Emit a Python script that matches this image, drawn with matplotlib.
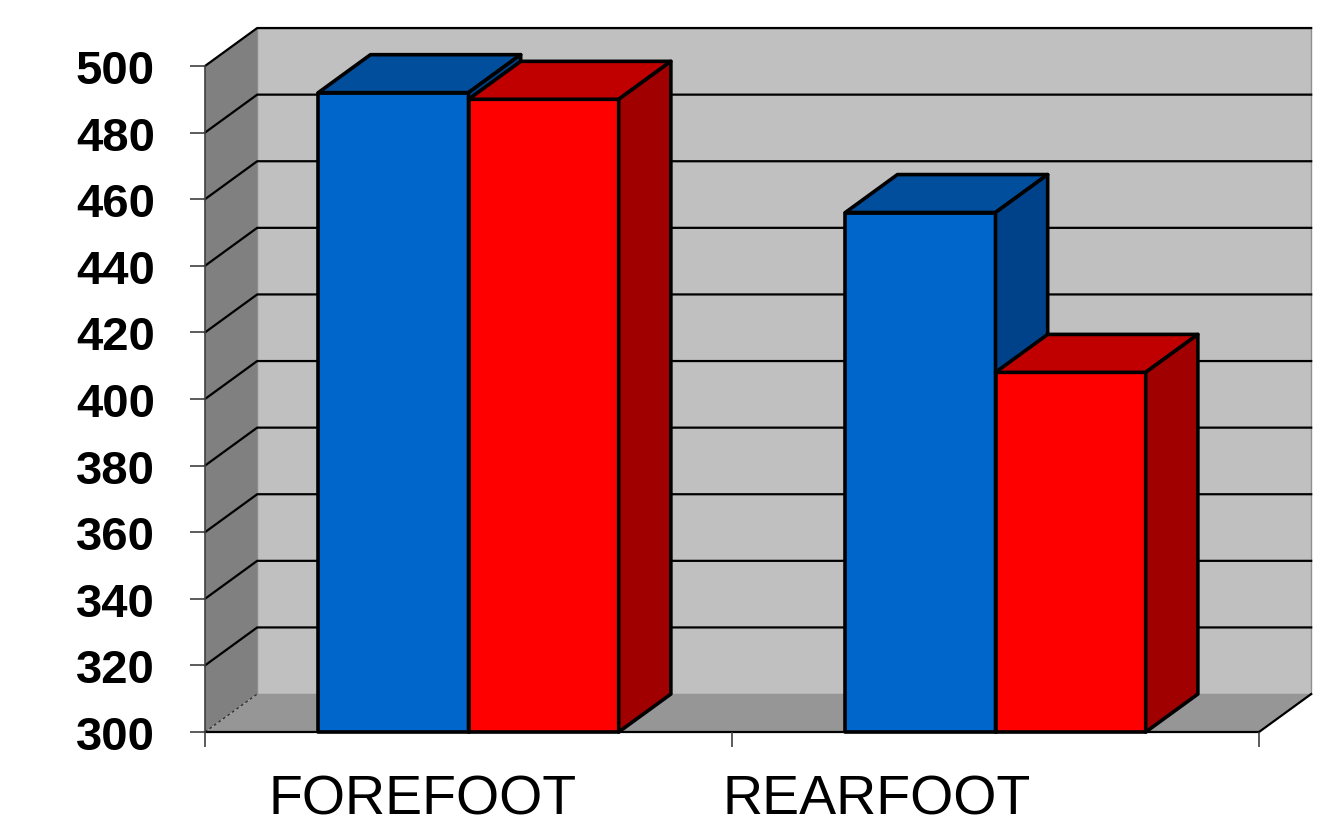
import matplotlib.pyplot as plt
from matplotlib.patches import Polygon
from matplotlib.transforms import blended_transform_factory

plt.rcParams['font.family'] = ['Liberation Sans', 'DejaVu Sans']

categories = ["FOREFOOT", "REARFOOT"]
series_a = [492, 456]   # blue bars
series_b = [490, 408]   # red bars
y_ticks = list(range(300, 501, 20))

# colours: front face, top face, side face
blue = ("#0066CC", "#004E9C", "#00428A")
red = ("#FF0000", "#C00000", "#A00000")

BAR_W = 0.285
DX, DY = 0.099, 11.4   # depth offset in data units
Y0, Y1 = 300, 500
X0, X1 = 0, 2

fig = plt.figure(figsize=(13.17, 8.29), dpi=100)
ax = fig.add_axes([205 / 1317, 1 - 733 / 829, 1054 / 1317, 666 / 829])
ax.set_xlim(X0, X1)
ax.set_ylim(Y0, Y1)
ax.set_facecolor("none")


def poly(pts, fc, ec="none", lw=0, z=1, ls="-"):
    ax.add_patch(Polygon(pts, closed=True, facecolor=fc, edgecolor=ec,
                         linewidth=lw, linestyle=ls, zorder=z, clip_on=False,
                         joinstyle="round"))


# back wall, side wall, floor
poly([(X0 + DX, Y0 + DY), (X1 + DX, Y0 + DY), (X1 + DX, Y1 + DY), (X0 + DX, Y1 + DY)],
     "#C0C0C0", "#909090", 1.0, z=0.5)
poly([(X0, Y0), (X0 + DX, Y0 + DY), (X0 + DX, Y1 + DY), (X0, Y1)], "#808080", z=0.6)
poly([(X0, Y0), (X1, Y0), (X1 + DX, Y0 + DY), (X0 + DX, Y0 + DY)], "#969696", z=0.6)

# gridlines on the walls
for v in y_ticks[1:]:
    ax.plot([X0, X0 + DX, X1 + DX], [v, v + DY, v + DY], color="black",
            lw=1.6, zorder=0.8, clip_on=False)
ax.plot([X0, X0 + DX], [Y0, Y0 + DY], color="#333333", lw=1.0, ls=(0, (2, 2)),
        zorder=0.8, clip_on=False)
ax.plot([X1, X1 + DX], [Y0, Y0 + DY], color="black", lw=1.6, zorder=0.8, clip_on=False)


def bar3d(x, h, cols, z):
    front, top, side = cols
    kw = dict(ec="black", lw=2.6, z=z)
    poly([(x, Y0), (x + BAR_W, Y0), (x + BAR_W, h), (x, h)], front, **kw)
    poly([(x, h), (x + BAR_W, h), (x + BAR_W + DX, h + DY), (x + DX, h + DY)], top, **kw)
    poly([(x + BAR_W, Y0), (x + BAR_W + DX, Y0 + DY), (x + BAR_W + DX, h + DY),
          (x + BAR_W, h)], side, **kw)


z = 2
for i in range(len(categories)):
    c = i + 0.5
    bar3d(c - BAR_W, series_a[i], blue, z)
    bar3d(c, series_b[i], red, z + 1)
    z += 2

# axes styling
for s in ("top", "right"):
    ax.spines[s].set_visible(False)
ax.spines["left"].set_color("#404040")
ax.spines["bottom"].set_color("black")
ax.spines["left"].set_linewidth(1.2)
ax.spines["bottom"].set_linewidth(1.6)
ax.spines["bottom"].set_zorder(1.5)

ax.set_yticks(y_ticks)
ax.set_yticklabels([str(v) for v in y_ticks], fontsize=34, fontweight="bold")
ax.tick_params(axis="y", direction="out", length=11, width=1.2, color="#404040", pad=25)
ax.set_xticks([0, 1, 2])
ax.set_xticklabels([])
ax.tick_params(axis="x", direction="out", length=11, width=1.2, color="#404040")

# category names sit a little left of the group centres
label_x = [0.412, 1.275]
trans = blended_transform_factory(ax.transData, ax.transAxes)
for name, lx in zip(categories, label_x):
    ax.text(lx, -0.102, name, transform=trans, ha="center", va="center",
            fontsize=40)

fig.savefig("out.png", dpi=100)
